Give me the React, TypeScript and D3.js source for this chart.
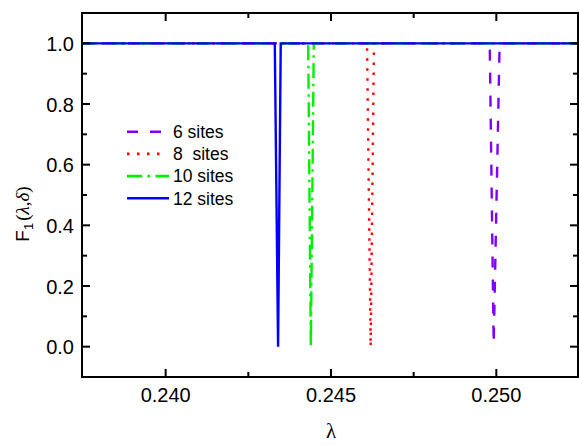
import React, { useEffect } from "react";
import * as d3 from "d3";

const W = 579;
const H = 445;

const xDomain = [0.23747, 0.25247];
const yDomain = [-0.1, 1.1];

const xMajorTicks = [0.24, 0.245, 0.25];
const xMinorTicks = [0.2425, 0.2475];
const xTickLabels = ["0.240", "0.245", "0.250"];
const yMajorTicks = [0, 0.2, 0.4, 0.6, 0.8, 1.0];
const yMinorTicks = [0.1, 0.3, 0.5, 0.7, 0.9];
const yTickLabels = ["0.0", "0.2", "0.4", "0.6", "0.8", "1.0"];

const seriesNames = ["6 sites", "8  sites", "10 sites", "12 sites"];
const seriesColors = ["#8000ff", "#ff0000", "#00f000", "#0000ff"];
const seriesDash = ["11,12", "2.5,7.5", "15,5.5,2.5,5.5", ""];

const lambda6 = [0.23747, 0.2498, 0.24992, 0.2501, 0.25247];
const f6 = [1, 1, 0.01, 1, 1];
const lambda8 = [0.23747, 0.24609, 0.2462, 0.2463, 0.25247];
const f8 = [1, 1, 0.0, 1, 1];
const lambda10 = [0.23747, 0.24431, 0.24439, 0.24448, 0.25247];
const f10 = [1, 1, 0.0, 1, 1];
const lambda12 = [0.23747, 0.2433, 0.2434, 0.24348, 0.25247];
const f12 = [1, 1, 0.0, 1, 1];

const seriesX = [lambda6, lambda8, lambda10, lambda12];
const seriesY = [f6, f8, f10, f12];

const L = 82, R = 578, T = 13, B = 377;

export default function App() {
  useEffect(() => {
    document.body.style.margin = "0";
  }, []);
  const x = d3.scaleLinear().domain(xDomain).range([L, R]);
  const y = d3.scaleLinear().domain(yDomain).range([B, T]);
  const line = d3
    .line<[number, number]>()
    .x((d) => x(d[0]))
    .y((d) => y(d[1]));

  const font = "'Liberation Sans', Arial, sans-serif";
  const majorLen = 8;
  const minorLen = 5;

  return (
    <svg
      width={W}
      height={H}
      style={{ position: "absolute", left: 0, top: 0, background: "#fff" }}
      fontFamily={font}
    >
      <rect x={0} y={0} width={W} height={H} fill="#fff" />
      {seriesX.map((xs, i) => (
        <path
          key={i}
          d={line(xs.map((v, j) => [v, seriesY[i][j]]) as [number, number][]) || ""}
          fill="none"
          stroke={seriesColors[i]}
          strokeWidth={2.4}
          strokeDasharray={seriesDash[i] || undefined}
          strokeLinejoin="miter"
          strokeMiterlimit={50}
        />
      ))}
      <rect x={L} y={T} width={R - L} height={B - T} fill="none" stroke="#000" strokeWidth={2} />
      {xMajorTicks.map((t, i) => (
        <g key={"xm" + i}>
          <line x1={x(t)} x2={x(t)} y1={B} y2={B - majorLen} stroke="#000" strokeWidth={2} />
          <line x1={x(t)} x2={x(t)} y1={T} y2={T + majorLen} stroke="#000" strokeWidth={2} />
          <text x={x(t)} y={402} fontSize={20} textAnchor="middle" fill="#000">
            {xTickLabels[i]}
          </text>
        </g>
      ))}
      {xMinorTicks.map((t, i) => (
        <g key={"xn" + i}>
          <line x1={x(t)} x2={x(t)} y1={B} y2={B - minorLen} stroke="#000" strokeWidth={2} />
          <line x1={x(t)} x2={x(t)} y1={T} y2={T + minorLen} stroke="#000" strokeWidth={2} />
        </g>
      ))}
      {yMajorTicks.map((t, i) => (
        <g key={"ym" + i}>
          <line x1={L} x2={L + majorLen} y1={y(t)} y2={y(t)} stroke="#000" strokeWidth={2} />
          <line x1={R} x2={R - majorLen} y1={y(t)} y2={y(t)} stroke="#000" strokeWidth={2} />
          <text x={74} y={y(t) + 7.5} fontSize={20} textAnchor="end" fill="#000">
            {yTickLabels[i]}
          </text>
        </g>
      ))}
      {yMinorTicks.map((t, i) => (
        <g key={"yn" + i}>
          <line x1={L} x2={L + minorLen} y1={y(t)} y2={y(t)} stroke="#000" strokeWidth={2} />
          <line x1={R} x2={R - minorLen} y1={y(t)} y2={y(t)} stroke="#000" strokeWidth={2} />
        </g>
      ))}
      {seriesNames.map((n, i) => {
        const cy = 131.7 + i * 22.2;
        const x2 = i < 2 ? 162 : 169;
        return (
          <g key={"lg" + i}>
            <line
              x1={127}
              x2={x2}
              y1={cy}
              y2={cy}
              stroke={seriesColors[i]}
              strokeWidth={2.6}
              strokeDasharray={seriesDash[i] || undefined}
            />
            <text x={173} y={cy + 6.3} fontSize={17.5} fill="#000" style={{ whiteSpace: "pre" }}>
              {n}
            </text>
          </g>
        );
      })}
      <text
        transform="translate(29,214) rotate(-90)"
        textAnchor="middle"
        fontSize={19}
        fill="#000"
      >
        <tspan>F</tspan>
        <tspan fontSize={13} dy={4}>1</tspan>
        <tspan dy={-4} dx={2} fontFamily="'Liberation Serif', serif">(</tspan>
        <tspan fontFamily="'Liberation Serif', serif" fontStyle="italic">λ</tspan>
        <tspan fontFamily="'Liberation Serif', serif">,</tspan>
        <tspan fontFamily="'Liberation Serif', serif" fontStyle="italic">δ</tspan>
        <tspan fontFamily="'Liberation Serif', serif">)</tspan>
      </text>
      <text x={331} y={438} textAnchor="middle" fontSize={21} fill="#000" fontFamily="'Liberation Serif', serif">
        λ
      </text>
    </svg>
  );
}
